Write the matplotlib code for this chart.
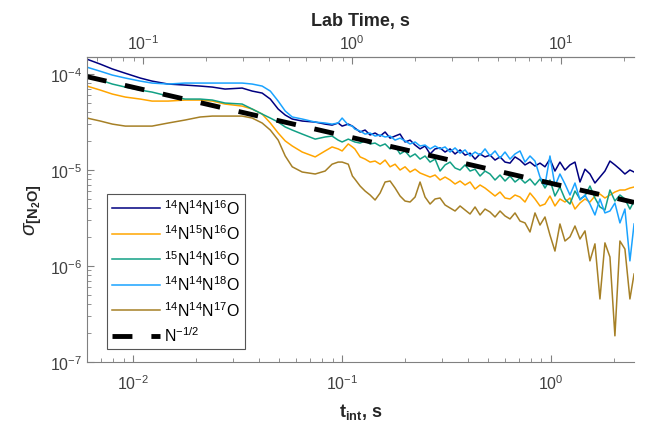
import matplotlib
matplotlib.use('Agg')
import matplotlib.pyplot as plt
from matplotlib.ticker import NullFormatter, LogLocator

plt.rcParams['font.family'] = ['Liberation Sans', 'DejaVu Sans']
plt.rcParams['mathtext.fontset'] = 'custom'
plt.rcParams['mathtext.rm'] = 'Liberation Sans'
plt.rcParams['mathtext.it'] = 'Liberation Sans:italic'
plt.rcParams['mathtext.bf'] = 'Liberation Sans:bold'

# integration time, s
t_int = [0.006, 0.00695, 0.00794, 0.00916, 0.0108, 0.0123, 0.0147, 0.0177,
         0.0209, 0.0239, 0.0275, 0.0332, 0.0371, 0.0414, 0.0453, 0.0494,
         0.0534, 0.0577, 0.0644, 0.0743, 0.0829, 0.0895, 0.0957, 0.100,
         0.107, 0.112, 0.115,
         0.1219, 0.1288, 0.1361, 0.1438, 0.1520, 0.1606, 0.1697, 0.1793,
         0.1894, 0.2001, 0.2115, 0.2235, 0.2361, 0.2495, 0.2637, 0.2786,
         0.2944, 0.3111, 0.3287, 0.3473, 0.3670, 0.3878, 0.4098, 0.4330,
         0.4575, 0.4833, 0.5107, 0.5397, 0.5702, 0.6025, 0.6366, 0.6727,
         0.7108, 0.7510, 0.7936, 0.8385, 0.8860, 0.9361, 0.9890, 1.045,
         1.104, 1.167, 1.233, 1.303, 1.377, 1.455, 1.537, 1.624,
         1.716, 1.813, 1.916, 2.024, 2.139, 2.260, 2.388, 2.500]

s_446 = [1.43e-4, 1.27e-4, 1.13e-4, 1.02e-4, 9.09e-5, 8.45e-5, 7.87e-5, 7.68e-5,
         7.50e-5, 7.32e-5, 6.98e-5, 7.15e-5, 6.65e-5, 6.34e-5, 5.49e-5, 4.32e-5,
         3.74e-5, 3.40e-5, 3.24e-5, 3.16e-5, 3.01e-5, 2.94e-5, 3.09e-5, 2.87e-5,
         3.01e-5, 2.87e-5, 2.74e-5,
         2.49e-5, 2.61e-5, 2.32e-5, 2.43e-5, 2.26e-5, 2.49e-5, 2.15e-5, 2.26e-5,
         2.37e-5, 1.96e-5, 2.05e-5, 1.82e-5, 1.66e-5, 1.78e-5, 1.47e-5, 1.66e-5,
         1.70e-5, 1.54e-5, 1.66e-5, 1.47e-5, 1.62e-5, 1.43e-5, 1.50e-5, 1.30e-5,
         1.47e-5, 1.37e-5, 1.43e-5, 1.27e-5, 1.37e-5, 1.21e-5, 1.18e-5, 1.37e-5,
         1.27e-5, 1.13e-5, 1.21e-5, 1.10e-5, 1.18e-5, 1.08e-5, 1.30e-5, 9.76e-6,
         1.21e-5, 1.00e-5, 1.13e-5, 1.21e-5, 7.50e-6, 1.02e-5, 9.09e-6, 7.32e-6,
         8.45e-6, 9.76e-6, 1.24e-5, 1.13e-5, 1.02e-5, 9.09e-6, 1.00e-5, 9.53e-6]

s_456 = [7.50e-5, 6.81e-5, 6.19e-5, 5.76e-5, 5.49e-5, 5.23e-5, 5.23e-5, 5.36e-5,
         5.36e-5, 5.23e-5, 4.87e-5, 4.64e-5, 4.32e-5, 3.83e-5, 3.09e-5, 2.43e-5,
         2.01e-5, 1.78e-5, 1.54e-5, 1.37e-5, 1.58e-5, 1.74e-5, 1.66e-5, 1.58e-5,
         1.87e-5, 1.74e-5, 1.66e-5,
         1.37e-5, 1.30e-5, 1.21e-5, 1.24e-5, 1.15e-5, 1.27e-5, 1.08e-5, 1.15e-5,
         1.00e-5, 1.08e-5, 9.53e-6, 1.02e-5, 9.31e-6, 8.87e-6, 8.45e-6, 8.87e-6,
         7.87e-6, 8.45e-6, 7.87e-6, 7.15e-6, 7.68e-6, 6.98e-6, 7.50e-6, 6.34e-6,
         6.98e-6, 6.49e-6, 5.90e-6, 5.36e-6, 5.90e-6, 5.11e-6, 4.99e-6, 5.49e-6,
         5.23e-6, 4.64e-6, 5.76e-6, 4.99e-6, 4.22e-6, 4.42e-6, 5.36e-6, 4.22e-6,
         4.99e-6, 4.64e-6, 5.11e-6, 3.92e-6, 4.53e-6, 4.99e-6, 4.64e-6, 5.36e-6,
         5.62e-6, 5.11e-6, 5.49e-6, 5.90e-6, 6.19e-6, 6.19e-6, 6.49e-6, 6.65e-6]

s_546 = [9.76e-5, 8.66e-5, 7.87e-5, 7.32e-5, 6.81e-5, 6.49e-5, 5.90e-5, 5.49e-5,
         5.49e-5, 5.36e-5, 4.99e-5, 4.87e-5, 4.32e-5, 3.83e-5, 3.48e-5, 3.16e-5,
         2.81e-5, 2.61e-5, 2.37e-5, 2.10e-5, 2.21e-5, 2.26e-5, 2.05e-5, 1.96e-5,
         2.10e-5, 2.01e-5, 1.96e-5,
         1.91e-5, 2.01e-5, 1.87e-5, 1.91e-5, 1.78e-5, 1.87e-5, 1.66e-5, 1.78e-5,
         1.47e-5, 1.58e-5, 1.37e-5, 1.47e-5, 1.30e-5, 1.40e-5, 1.21e-5, 1.30e-5,
         9.76e-6, 1.13e-5, 1.21e-5, 1.05e-5, 1.00e-5, 1.13e-5, 9.76e-6, 1.02e-5,
         8.66e-6, 9.76e-6, 9.09e-6, 7.87e-6, 8.87e-6, 7.68e-6, 8.66e-6, 7.50e-6,
         8.25e-6, 7.32e-6, 8.06e-6, 6.98e-6, 8.06e-6, 6.49e-6, 7.87e-6, 5.36e-6,
         6.65e-6, 4.99e-6, 4.42e-6, 6.04e-6, 4.99e-6, 5.36e-6, 6.81e-6, 5.11e-6,
         4.12e-6, 3.83e-6, 6.19e-6, 4.75e-6, 5.49e-6, 4.99e-6, 3.92e-6, 4.75e-6]

s_448 = [1.18e-4, 1.07e-4, 9.76e-5, 9.09e-5, 8.45e-5, 8.06e-5, 7.87e-5, 8.06e-5,
         8.06e-5, 8.06e-5, 8.06e-5, 8.06e-5, 7.87e-5, 7.50e-5, 6.65e-5, 5.23e-5,
         4.12e-5, 3.57e-5, 3.40e-5, 3.16e-5, 3.09e-5, 3.01e-5, 3.09e-5, 3.48e-5,
         2.94e-5, 2.87e-5, 2.67e-5,
         2.55e-5, 2.37e-5, 2.43e-5, 2.26e-5, 2.32e-5, 2.21e-5, 2.26e-5, 2.05e-5,
         2.15e-5, 2.01e-5, 1.87e-5, 1.96e-5, 1.78e-5, 1.82e-5, 1.66e-5, 1.78e-5,
         1.66e-5, 1.74e-5, 1.54e-5, 1.70e-5, 1.50e-5, 1.62e-5, 1.40e-5, 1.54e-5,
         1.43e-5, 1.66e-5, 1.40e-5, 1.58e-5, 1.33e-5, 1.54e-5, 1.30e-5, 1.47e-5,
         1.58e-5, 1.21e-5, 1.40e-5, 1.24e-5, 8.45e-6, 6.98e-6, 1.40e-5, 6.81e-6,
         9.09e-6, 7.15e-6, 5.49e-6, 7.32e-6, 4.87e-6, 5.49e-6, 4.42e-6, 3.40e-6,
         4.99e-6, 3.57e-6, 3.74e-6, 4.53e-6, 2.81e-6, 3.92e-6, 1.13e-6, 2.74e-6]

s_447 = [3.48e-5, 3.24e-5, 3.01e-5, 2.87e-5, 2.87e-5, 2.87e-5, 3.09e-5, 3.32e-5,
         3.57e-5, 3.65e-5, 3.65e-5, 3.65e-5, 3.48e-5, 3.09e-5, 2.61e-5, 2.05e-5,
         1.40e-5, 1.08e-5, 9.53e-6, 9.09e-6, 9.76e-6, 1.15e-5, 1.21e-5, 1.21e-5,
         1.15e-5, 8.66e-6, 8.06e-6,
         6.81e-6, 6.04e-6, 5.49e-6, 4.87e-6, 5.76e-6, 7.50e-6, 7.68e-6, 6.49e-6,
         5.36e-6, 4.75e-6, 4.64e-6, 5.23e-6, 7.50e-6, 5.23e-6, 4.42e-6, 4.99e-6,
         5.11e-6, 4.32e-6, 4.02e-6, 3.74e-6, 4.22e-6, 3.83e-6, 3.48e-6, 4.12e-6,
         3.40e-6, 3.92e-6, 3.65e-6, 3.24e-6, 3.74e-6, 3.32e-6, 3.09e-6, 3.57e-6,
         2.94e-6, 2.81e-6, 2.26e-6, 3.57e-6, 2.67e-6, 3.24e-6, 2.10e-6, 1.43e-6,
         2.74e-6, 1.82e-6, 2.01e-6, 2.61e-6, 1.91e-6, 2.32e-6, 1.13e-6, 1.70e-6,
         4.53e-7, 1.74e-6, 1.24e-6, 1.87e-7, 1.82e-6, 1.50e-6, 4.53e-7, 8.25e-7]

# N^-1/2 reference line end points
ref_t = [0.006, 2.5]
ref_s = [9.4e-5, 4.6e-6]

labels = ['$^{14}$N$^{14}$N$^{16}$O', '$^{14}$N$^{15}$N$^{16}$O',
          '$^{15}$N$^{14}$N$^{16}$O', '$^{14}$N$^{14}$N$^{18}$O',
          '$^{14}$N$^{14}$N$^{17}$O']
colors = ['#000080', '#ffa500', '#12a085', '#1aa3ff', '#a68026']
series = [s_446, s_456, s_546, s_448, s_447]

lab_factor = 8.96  # lab time / integration time

fig = plt.figure(figsize=(6.49, 4.31), dpi=100)
ax = fig.add_axes([0.134, 0.158, 0.843, 0.707])

for s, c, lb in zip(series, colors, labels):
    ax.plot(t_int, s, color=c, lw=1.1, label=lb)
ax.plot(ref_t, ref_s, color='black', lw=3.5, dashes=(4.1, 3.9),
        label='N$^{-1/2}$')

ax.set_xscale('log')
ax.set_yscale('log')
ax.set_xlim(0.006, 2.5)
ax.set_ylim(1e-7, 1.5e-4)

gray = '#808080'
txt = '#404040'
for sp in ['left', 'bottom', 'top']:
    ax.spines[sp].set_color(gray)
ax.spines['right'].set_visible(False)
ax.tick_params(which='both', direction='in', colors=gray, labelcolor=txt,
               labelsize=11.5, top=False, right=False)
ax.tick_params(which='major', length=5)
ax.tick_params(which='minor', length=3)
ax.tick_params(axis='x', which='both', pad=8)
ax.xaxis.set_minor_formatter(NullFormatter())
ax.yaxis.set_minor_formatter(NullFormatter())
ax.yaxis.set_minor_locator(LogLocator(subs=range(2, 10)))

ax.set_xlabel(r'$\mathbf{t_{int}}$, s', fontsize=13, fontweight='bold',
              color='#262626', labelpad=7)
ax.set_ylabel(r'$\sigma_{\mathbf{[N_2O]}}$', fontsize=15, color='#262626',
              labelpad=4)

ax2 = ax.twiny()
ax2.set_xscale('log')
ax2.set_xlim(0.006 * lab_factor, 2.5 * lab_factor)
for sp in ['left', 'right', 'bottom']:
    ax2.spines[sp].set_visible(False)
ax2.spines['top'].set_color(gray)
ax2.tick_params(which='both', direction='in', colors=gray, labelcolor=txt,
                labelsize=11.5)
ax2.tick_params(which='major', length=5)
ax2.tick_params(which='minor', length=3)
ax2.xaxis.set_minor_formatter(NullFormatter())
ax2.set_xlabel('Lab Time, s', fontsize=13, fontweight='bold', color='#262626',
               labelpad=6)

leg = ax.legend(loc='lower left', bbox_to_anchor=(0.0366, 0.0426),
                borderaxespad=0, fontsize=11.5, handlelength=3.0,
                handletextpad=0.3, labelspacing=0.42, borderpad=0.3,
                fancybox=False, framealpha=1, edgecolor='#555555')
leg.get_frame().set_linewidth(0.8)

fig.savefig('out.png', dpi=100)
